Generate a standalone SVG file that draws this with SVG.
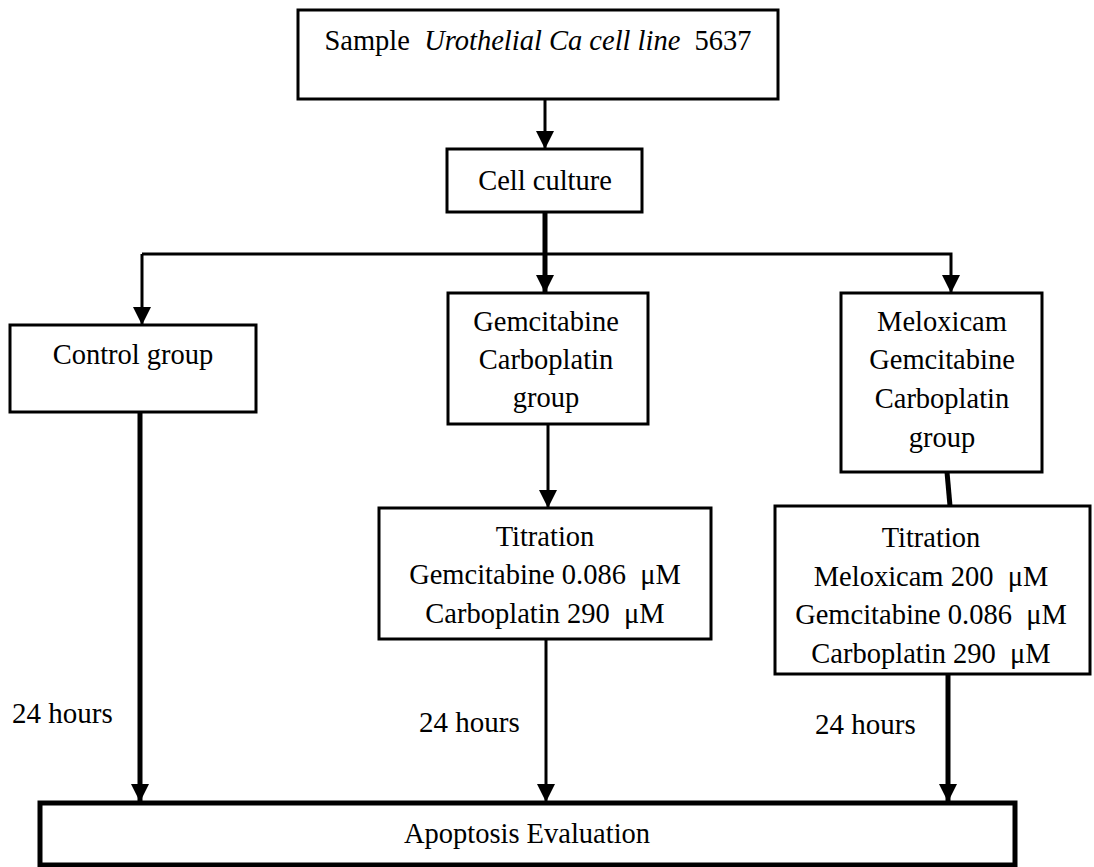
<svg xmlns="http://www.w3.org/2000/svg" width="1094" height="867" viewBox="0 0 1094 867">
<style>
.box{fill:#fff;stroke:#000;stroke-width:3}
.t{font-family:"Liberation Serif","Times New Roman",serif;font-size:28.5px;fill:#000;text-anchor:middle}
.l{font-family:"Liberation Serif","Times New Roman",serif;font-size:29px;fill:#000}
.c{fill:none;stroke:#000;stroke-width:3}
.ck{fill:none;stroke:#000;stroke-width:5}
</style>
<defs>
<marker id="ah" markerUnits="userSpaceOnUse" markerWidth="18" markerHeight="18" refX="18" refY="9" orient="auto">
<path d="M0,0 L18,9 L0,18 z" fill="#000"/>
</marker>
</defs>
<rect width="1094" height="867" fill="#fff"/>
<g id="connectors">
<line class="c" x1="545" y1="99" x2="545" y2="149" marker-end="url(#ah)"/>
<polyline class="c" points="142,254 951,254 951,293" fill="none" marker-end="url(#ah)"/>
<line class="c" x1="142" y1="254" x2="142" y2="325" marker-end="url(#ah)"/>
<line class="ck" x1="545" y1="212" x2="545" y2="293" marker-end="url(#ah)"/>
<line class="c" x1="548" y1="424" x2="548" y2="508" marker-end="url(#ah)"/>
<line class="ck" x1="947" y1="472" x2="950" y2="506"/>
<line class="ck" x1="140" y1="412" x2="140" y2="802" marker-end="url(#ah)"/>
<line class="c" x1="546" y1="639" x2="546" y2="802" marker-end="url(#ah)"/>
<line class="ck" x1="948" y1="674" x2="948" y2="802" marker-end="url(#ah)"/>
</g>
<g id="sample">
<rect class="box" x="298" y="10" width="480" height="89"/>
<text class="t" x="538" y="50" font-size="29" xml:space="preserve">Sample  <tspan font-style="italic">Urothelial Ca cell line</tspan>  5637</text>
</g>
<g id="cellculture">
<rect class="box" x="447" y="149" width="195" height="63"/>
<text class="t" x="545" y="190" font-size="31">Cell culture</text>
</g>
<g id="control">
<rect class="box" x="10" y="325" width="246" height="87"/>
<text class="t" x="133" y="364">Control group</text>
</g>
<g id="gemcarbo">
<rect class="box" x="448" y="293" width="200" height="131"/>
<text class="t" x="546" y="331">Gemcitabine</text>
<text class="t" x="546" y="369">Carboplatin</text>
<text class="t" x="546" y="407">group</text>
</g>
<g id="melgemcarbo">
<rect class="box" x="841" y="293" width="201" height="179"/>
<text class="t" x="942" y="331">Meloxicam</text>
<text class="t" x="942" y="369">Gemcitabine</text>
<text class="t" x="942" y="408">Carboplatin</text>
<text class="t" x="942" y="447">group</text>
</g>
<g id="titration1">
<rect class="box" x="379" y="508" width="332" height="131"/>
<text class="t" x="545" y="546">Titration</text>
<text class="t" x="545" y="584" xml:space="preserve">Gemcitabine 0.086  μM</text>
<text class="t" x="545" y="623" xml:space="preserve">Carboplatin 290  μM</text>
</g>
<g id="titration2">
<rect class="box" x="775" y="506" width="315" height="168"/>
<text class="t" x="931" y="547">Titration</text>
<text class="t" x="931" y="586" xml:space="preserve">Meloxicam 200  μM</text>
<text class="t" x="931" y="624" xml:space="preserve">Gemcitabine 0.086  μM</text>
<text class="t" x="931" y="663" xml:space="preserve">Carboplatin 290  μM</text>
</g>
<g id="labels">
<text class="l" x="12" y="723">24 hours</text>
<text class="l" x="419" y="732">24 hours</text>
<text class="l" x="815" y="734">24 hours</text>
</g>
<g id="apoptosis">
<rect x="40" y="803" width="975" height="62" fill="#fff" stroke="#000" stroke-width="5"/>
<text class="t" x="527" y="843">Apoptosis Evaluation</text>
</g>
</svg>
